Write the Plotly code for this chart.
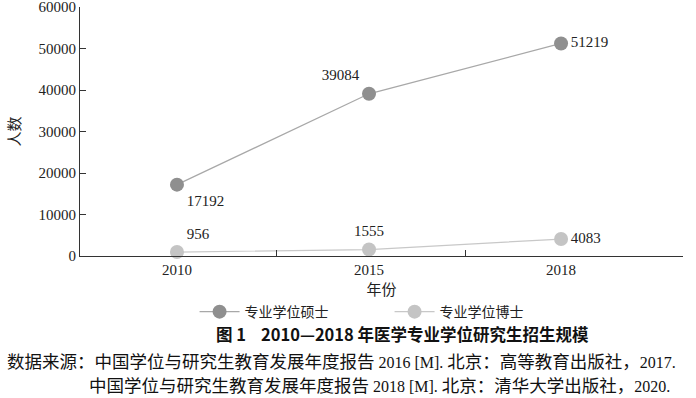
import plotly.graph_objects as go

years = ["2010", "2015", "2018"]
master = [17192, 39084, 51219]
doctor = [956, 1555, 4083]
series_names = ["专业学位硕士", "专业学位博士"]
yticks = [0, 10000, 20000, 30000, 40000, 50000, 60000]

FONT = "Liberation Serif, Times New Roman, Noto Sans CJK SC, serif"
CJK = "Noto Sans CJK SC, Liberation Serif, serif"

xpos = list(range(len(years)))

fig = go.Figure()
fig.add_trace(go.Scatter(
    x=xpos, y=master, name=series_names[0], mode="lines+markers+text",
    line=dict(color="#a8a8a8", width=1.2),
    marker=dict(color="#8f8f8f", size=14),
    text=[str(v) for v in master],
    textposition=["bottom right", "top left", "middle right"],
    textfont=dict(family=FONT, size=15, color="#222"),
    cliponaxis=False,
))
fig.add_trace(go.Scatter(
    x=xpos, y=doctor, name=series_names[1], mode="lines+markers+text",
    line=dict(color="#c8c8c8", width=1.2),
    marker=dict(color="#c4c4c4", size=14),
    text=[str(v) for v in doctor],
    textposition=["top right", "top center", "middle right"],
    textfont=dict(family=FONT, size=15, color="#222"),
    cliponaxis=False,
))
# invisible trace for boundary tick axis
fig.add_trace(go.Scatter(x=[0], y=[0], xaxis="x2", showlegend=False,
                         mode="markers", marker=dict(opacity=0), hoverinfo="skip"))

xr = [-0.505, 2.635]
fig.update_layout(
    width=696, height=398,
    margin=dict(l=80, r=13, t=7, b=142),
    paper_bgcolor="white", plot_bgcolor="white",
    font=dict(family=FONT, size=15, color="#222"),
    xaxis=dict(range=xr, tickvals=xpos, ticktext=years, ticks="", showline=True,
               linecolor="#333", linewidth=1, showgrid=False, zeroline=False,
               automargin=False,
               tickfont=dict(family=FONT, size=15),
               title=dict(text="年份", font=dict(family=CJK, size=15), standoff=4)),
    xaxis2=dict(range=xr, overlaying="x", anchor="y", side="bottom",
                tickvals=[0.52, 1.5, 2.635], showticklabels=False, ticks="inside",
                ticklen=6, tickcolor="#333", showline=False, showgrid=False, zeroline=False),
    yaxis=dict(range=[0, 60000], tickvals=yticks, ticktext=[str(v) for v in yticks],
               ticks="inside", ticklen=6, automargin=False, ticklabeloverflow="allow",
               tickcolor="#333", showline=True, linecolor="#333", linewidth=1,
               showgrid=False, zeroline=False, tickfont=dict(family=FONT, size=15),
               title=dict(text="人数", font=dict(family=CJK, size=15), standoff=14)),
    legend=dict(orientation="h", x=0.19, xanchor="left", y=-0.225, yanchor="middle",
                font=dict(family=CJK, size=14), itemwidth=40, entrywidth=140,
                bgcolor="rgba(0,0,0,0)"),
    showlegend=True,
)

S = '<span style="font-family:Liberation Serif;font-size:16px">'
E = '</span>'
fig.add_annotation(text="<b>图 1    2010—2018 年医学专业学位研究生招生规模</b>",
                   xref="paper", yref="paper", x=0.535, y=-0.312, xanchor="center",
                   yanchor="middle", showarrow=False, font=dict(family=CJK, size=16.5, color="#111"))
fig.add_annotation(text=f"数据来源：中国学位与研究生教育发展年度报告 {S}2016 [M].{E} 北京：高等教育出版社，{S}2017.{E}",
                   xref="paper", yref="paper", x=-0.1244, y=-0.418, xanchor="left",
                   yanchor="middle", showarrow=False, font=dict(family=CJK, size=17.5, color="#111"))
fig.add_annotation(text=f"中国学位与研究生教育发展年度报告 {S}2018 [M].{E} 北京：清华大学出版社，{S}2020.{E}",
                   xref="paper", yref="paper", x=0.0115, y=-0.518, xanchor="left",
                   yanchor="middle", showarrow=False, font=dict(family=CJK, size=17.5, color="#111"))

fig.write_html("out.html")
